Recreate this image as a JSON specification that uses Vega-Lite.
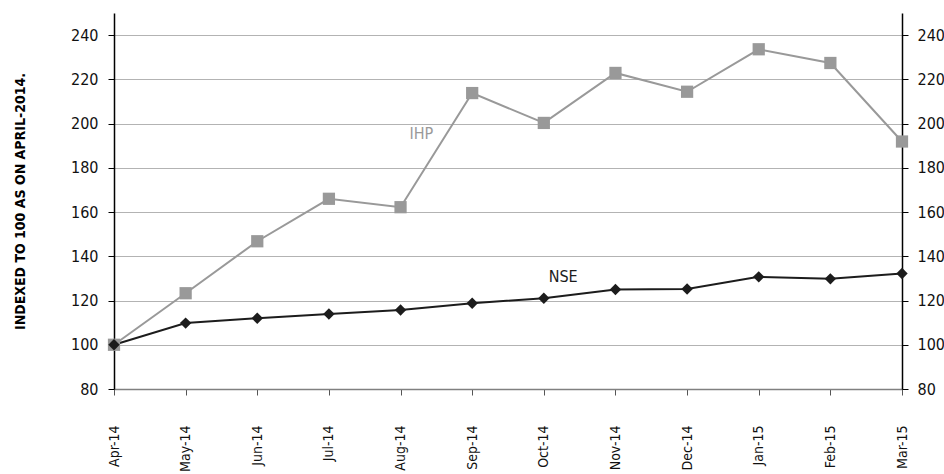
{
  "$schema": "https://vega.github.io/schema/vega-lite/v6.json",
  "width": 788,
  "height": 376,
  "autosize": {"type": "none"},
  "padding": {"left": 114, "top": 13, "right": 42, "bottom": 85},
  "background": "white",
  "config": {
    "view": {"stroke": null},
    "font": "DejaVu Sans Condensed",
    "axis": {"labelFont": "DejaVu Sans Condensed", "labelFontSize": 16, "labelColor": "#111", "titleFont": "DejaVu Sans Condensed"}
  },
  "datasets": {
    "series": [
      {"i": 0, "series": "IHP", "value": 100},
      {"i": 1, "series": "IHP", "value": 123.3},
      {"i": 2, "series": "IHP", "value": 146.8},
      {"i": 3, "series": "IHP", "value": 166},
      {"i": 4, "series": "IHP", "value": 162.2},
      {"i": 5, "series": "IHP", "value": 213.8},
      {"i": 6, "series": "IHP", "value": 200.3},
      {"i": 7, "series": "IHP", "value": 222.9},
      {"i": 8, "series": "IHP", "value": 214.4},
      {"i": 9, "series": "IHP", "value": 233.6},
      {"i": 10, "series": "IHP", "value": 227.4},
      {"i": 11, "series": "IHP", "value": 191.9},
      {"i": 0, "series": "NSE", "value": 100},
      {"i": 1, "series": "NSE", "value": 109.8},
      {"i": 2, "series": "NSE", "value": 112},
      {"i": 3, "series": "NSE", "value": 113.9},
      {"i": 4, "series": "NSE", "value": 115.7},
      {"i": 5, "series": "NSE", "value": 118.8},
      {"i": 6, "series": "NSE", "value": 121},
      {"i": 7, "series": "NSE", "value": 125},
      {"i": 8, "series": "NSE", "value": 125.2},
      {"i": 9, "series": "NSE", "value": 130.7},
      {"i": 10, "series": "NSE", "value": 129.8},
      {"i": 11, "series": "NSE", "value": 132.2}
    ],
    "labels": [
      {"i": 4.29, "value": 195.4, "series": "IHP", "text": "IHP"},
      {"i": 6.27, "value": 130.5, "series": "NSE", "text": "NSE"}
    ]
  },
  "encoding": {
    "x": {
      "field": "i",
      "type": "quantitative",
      "scale": {"domain": [0, 11], "nice": false, "zero": false},
      "axis": {
        "values": [0, 1, 2, 3, 4, 5, 6, 7, 8, 9, 10, 11],
        "labelExpr": "['Apr-14','May-14','Jun-14','Jul-14','Aug-14','Sep-14','Oct-14','Nov-14','Dec-14','Jan-15','Feb-15','Mar-15'][datum.value]",
        "labelAngle": -90,
        "labelPadding": 30,
        "labelFontSize": 14,
        "tickSize": 6,
        "tickColor": "#555",
        "domainColor": "#808080",
        "domainWidth": 1.5,
        "grid": false,
        "title": null
      }
    },
    "y": {
      "field": "value",
      "type": "quantitative",
      "scale": {"domain": [80, 250], "nice": false, "zero": false}
    },
    "color": {
      "field": "series",
      "type": "nominal",
      "scale": {"domain": ["IHP", "NSE"], "range": ["#999999", "#1c1c1c"]},
      "legend": null
    }
  },
  "resolve": {"axis": {"y": "independent"}},
  "layer": [
    {
      "data": {"name": "series"},
      "mark": {"type": "line", "strokeWidth": 2},
      "encoding": {
        "detail": {"field": "series"},
        "y": {
          "field": "value",
          "type": "quantitative",
          "axis": {
            "orient": "left",
            "values": [80, 100, 120, 140, 160, 180, 200, 220, 240],
            "grid": true,
            "gridColor": "#b3b3b3",
            "gridWidth": 1,
            "domainColor": "#000",
            "domainWidth": 1.5,
            "tickColor": "#000",
            "tickSize": 6,
            "labelPadding": 10,
            "title": "INDEXED TO 100 AS ON APRIL-2014.",
            "titleFontSize": 14,
            "titleFontWeight": "bold",
            "titleColor": "#000",
            "titleX": -94,
            "titleBaseline": "middle"
          }
        }
      }
    },
    {
      "data": {"name": "series"},
      "mark": {"type": "point", "filled": true, "opacity": 1},
      "encoding": {
        "shape": {"field": "series", "type": "nominal", "scale": {"domain": ["IHP", "NSE"], "range": ["square", "diamond"]}, "legend": null},
        "size": {"field": "series", "type": "nominal", "scale": {"domain": ["IHP", "NSE"], "range": [150, 130]}, "legend": null},
        "y": {
          "field": "value",
          "type": "quantitative",
          "axis": {
            "orient": "right",
            "values": [80, 100, 120, 140, 160, 180, 200, 220, 240],
            "grid": false,
            "domainColor": "#000",
            "domainWidth": 1.5,
            "tickColor": "#000",
            "tickSize": 6,
            "labelPadding": 9,
            "title": null
          }
        }
      }
    },
    {
      "data": {"name": "labels"},
      "mark": {"type": "text", "fontSize": 16, "align": "center", "baseline": "middle"},
      "encoding": {
        "text": {"field": "text"},
        "y": {"field": "value", "type": "quantitative", "axis": null}
      }
    }
  ]
}
